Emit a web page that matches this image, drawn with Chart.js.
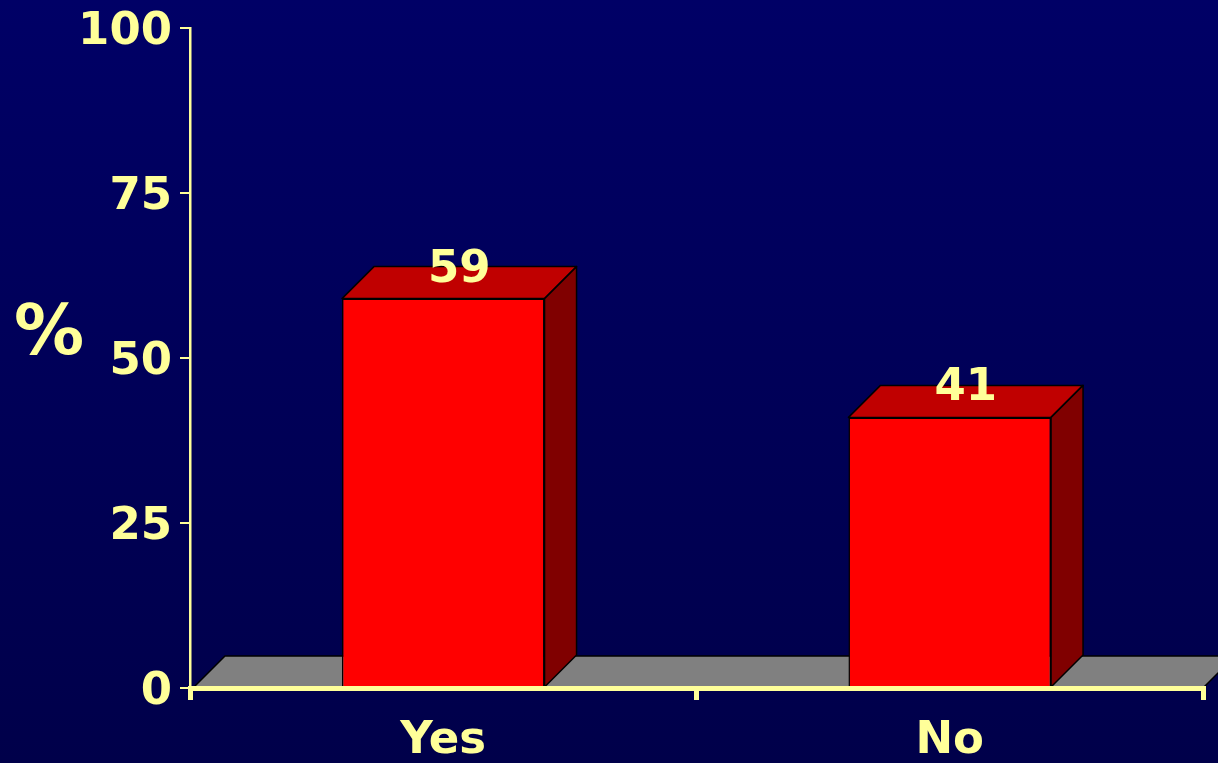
<!DOCTYPE html>
<html>
<head>
<meta charset="utf-8">
<title>Yes / No</title>
<script src="https://cdn.jsdelivr.net/npm/chart.js@4.4.0/dist/chart.umd.min.js"></script>
<style>
  html, body { margin: 0; padding: 0; }
  body { width: 1218px; height: 763px; overflow: hidden; background: linear-gradient(#000066, #00004a); }
  canvas { display: block; }
</style>
</head>
<body>
<canvas id="answerChart" width="1218" height="763"></canvas>
<script>
const categories = ['Yes', 'No'];
const percentValues = [59, 41];
const yTicks = [0, 25, 50, 75, 100];
const axisTitle = '%';

const yellow = '#ffff99';
const depth = 32;
const bigFont = { family: 'DejaVu Sans', size: 45, weight: 'bold' };

// draws the grey floor, the top/side faces of each bar and the value labels
const box3d = {
  id: 'box3d',
  beforeDatasetsDraw(chart) {
    const ctx = chart.ctx;
    const area = chart.chartArea;
    const base = chart.scales.y.getPixelForValue(0);
    ctx.save();
    ctx.fillStyle = '#808080';
    ctx.strokeStyle = '#000';
    ctx.lineWidth = 1.5;
    ctx.beginPath();
    ctx.moveTo(area.left + 3, base);
    ctx.lineTo(area.left + 3 + depth, base - depth);
    ctx.lineTo(area.right + depth, base - depth);
    ctx.lineTo(area.right, base);
    ctx.closePath();
    ctx.fill();
    ctx.stroke();
    ctx.restore();
  },
  afterDatasetsDraw(chart) {
    const ctx = chart.ctx;
    const meta = chart.getDatasetMeta(0);
    ctx.save();
    ctx.strokeStyle = '#000';
    ctx.lineWidth = 1.5;
    ctx.lineJoin = 'round';
    meta.data.forEach((bar, i) => {
      const left = bar.x - bar.width / 2;
      const right = bar.x + bar.width / 2;
      // top
      ctx.fillStyle = '#c00000';
      ctx.beginPath();
      ctx.moveTo(left, bar.y);
      ctx.lineTo(left + depth, bar.y - depth);
      ctx.lineTo(right + depth, bar.y - depth);
      ctx.lineTo(right, bar.y);
      ctx.closePath();
      ctx.fill();
      ctx.stroke();
      // side
      ctx.fillStyle = '#800000';
      ctx.beginPath();
      ctx.moveTo(right, bar.y);
      ctx.lineTo(right + depth, bar.y - depth);
      ctx.lineTo(right + depth, bar.base - depth);
      ctx.lineTo(right, bar.base);
      ctx.closePath();
      ctx.fill();
      ctx.stroke();
      // value
      ctx.fillStyle = yellow;
      ctx.font = 'bold 45px "DejaVu Sans"';
      ctx.textAlign = 'center';
      ctx.textBaseline = 'alphabetic';
      ctx.fillText(percentValues[i], bar.x + depth / 2, bar.y - depth / 2 - 1);
    });
    // "%" axis title, horizontal
    ctx.font = 'bold 70px "DejaVu Sans"';
    ctx.textAlign = 'center';
    ctx.textBaseline = 'middle';
    ctx.fillStyle = yellow;
    ctx.fillText(axisTitle, 49, 336);
    ctx.restore();
  }
};

const answerCtx = document.getElementById('answerChart').getContext('2d');
new Chart(answerCtx, {
  type: 'bar',
  data: {
    labels: categories,
    datasets: [{
      data: percentValues,
      backgroundColor: '#ff0000',
      borderColor: '#000',
      borderWidth: 1.5,
      barPercentage: 0.4,
      categoryPercentage: 1
    }]
  },
  options: {
    responsive: false,
    animation: false,
    layout: { padding: { top: 28, right: 15, left: 0, bottom: 0 } },
    plugins: {
      legend: { display: false },
      tooltip: { enabled: false }
    },
    scales: {
      x: {
        grid: { offset: true, drawOnChartArea: false, color: yellow, lineWidth: 5, tickLength: 12, z: 1 },
        border: { color: yellow, width: 5, z: 1 },
        ticks: { color: yellow, font: bigFont, padding: 14 },
        afterFit(scale) { scale.height = 75; }
      },
      y: {
        min: 0,
        max: 100,
        afterBuildTicks(scale) { scale.ticks = yTicks.map(v => ({ value: v })); },
        grid: { drawOnChartArea: false, color: yellow, lineWidth: 2, tickLength: 10 },
        border: { color: yellow, width: 2.5 },
        ticks: { color: yellow, font: bigFont, padding: 8, labelOffset: 4 },
        afterFit(scale) {
          scale.width = 190;
          scale.paddingTop = 0;
          scale.paddingBottom = 0;
        }
      }
    }
  },
  plugins: [box3d]
});
</script>
</body>
</html>
